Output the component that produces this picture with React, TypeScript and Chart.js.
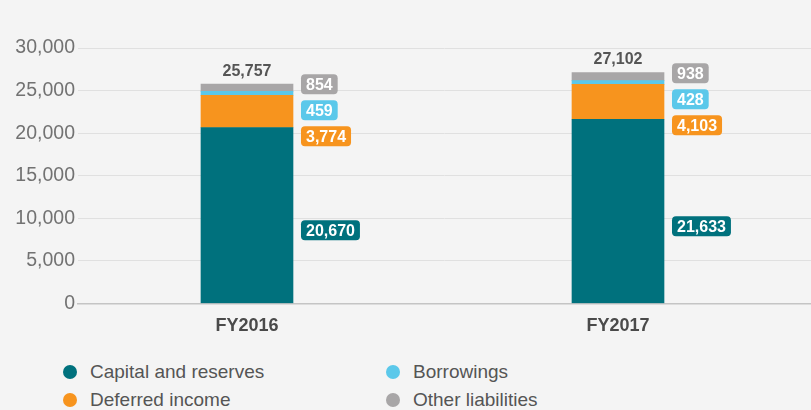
import React, { useEffect, useRef } from "react";
import { Chart, registerables } from "chart.js";

Chart.register(...registerables);

const categories = ["FY2016", "FY2017"];
const capitalReserves = [20670, 21633];
const deferredIncome = [3774, 4103];
const borrowings = [459, 428];
const otherLiabilities = [854, 938];
const totals = [25757, 27102];
const yTicks = [0, 5000, 10000, 15000, 20000, 25000, 30000];

const seriesNames = ["Capital and reserves", "Deferred income", "Borrowings", "Other liabilities"];
const COLORS = ["#00717D", "#F7941E", "#5BC8EA", "#A8A6A7"];

const FONT = "'Liberation Sans', Arial, Helvetica, sans-serif";
const X_MIN = -0.4555;
const X_MAX = 1.5202;

const fmt = (v: number) => v.toLocaleString("en-US");

function roundRect(ctx: CanvasRenderingContext2D, x: number, y: number, w: number, h: number, r: number) {
  ctx.beginPath();
  ctx.moveTo(x + r, y);
  ctx.lineTo(x + w - r, y);
  ctx.quadraticCurveTo(x + w, y, x + w, y + r);
  ctx.lineTo(x + w, y + h - r);
  ctx.quadraticCurveTo(x + w, y + h, x + w - r, y + h);
  ctx.lineTo(x + r, y + h);
  ctx.quadraticCurveTo(x, y + h, x, y + h - r);
  ctx.lineTo(x, y + r);
  ctx.quadraticCurveTo(x, y, x + r, y);
  ctx.closePath();
}

const labelPlugin = {
  id: "barLabels",
  afterDatasetsDraw(chart: any) {
    const ctx: CanvasRenderingContext2D = chart.ctx;
    const metas = [0, 1, 2, 3].map((d) => chart.getDatasetMeta(d));
    categories.forEach((_, i) => {
      const bars = metas.map((m: any) => m.data[i]);
      const top = bars[3];
      const cx = top.x;
      const halfW = top.width / 2;
      ctx.save();
      ctx.font = `bold 16px ${FONT}`;
      ctx.fillStyle = "#555555";
      ctx.textAlign = "center";
      ctx.textBaseline = "middle";
      ctx.fillText(fmt(totals[i]), cx, top.y - 13);

      const values = [capitalReserves[i], deferredIncome[i], borrowings[i], otherLiabilities[i]];
      const grayCenter = (bars[3].y + bars[3].base) / 2 - 3.5;
      const capCenter = (bars[0].y + bars[0].base) / 2 + 15;
      const ys = [capCenter, grayCenter + 52, grayCenter + 26, grayCenter];
      const bx = cx + halfW + 8;
      values.forEach((v, d) => {
        const txt = fmt(v);
        ctx.font = `bold 16px ${FONT}`;
        const w = ctx.measureText(txt).width + 10;
        const h = 20;
        roundRect(ctx, bx, ys[d] - h / 2, w, h, 4);
        ctx.fillStyle = COLORS[d];
        ctx.fill();
        ctx.fillStyle = "#ffffff";
        ctx.textAlign = "left";
        ctx.textBaseline = "middle";
        ctx.fillText(txt, bx + 5, ys[d] + 1);
      });
      ctx.restore();
    });
  },
};

export default function App() {
  const ref = useRef<HTMLCanvasElement | null>(null);

  useEffect(() => {
    if (!ref.current) return;
    const seriesData = [capitalReserves, deferredIncome, borrowings, otherLiabilities];
    const chart = new Chart(ref.current, {
      type: "bar",
      data: {
        datasets: seriesData.map((arr, d) => ({
          label: seriesNames[d],
          data: arr.map((v, i) => ({ x: i, y: v })),
          backgroundColor: COLORS[d],
          borderWidth: 0,
          barThickness: 92,
        })),
      },
      options: {
        animation: false,
        responsive: false,
        maintainAspectRatio: false,
        layout: { padding: { top: 48, left: 0, right: 0, bottom: 0 } },
        plugins: { legend: { display: false }, tooltip: { enabled: false } },
        scales: {
          x: {
            type: "linear",
            stacked: true,
            offset: false,
            min: X_MIN,
            max: X_MAX,
            grid: { display: false, drawTicks: false, offset: false },
            border: { display: true, color: "#c4c4c4", width: 1.5 },
            afterBuildTicks: (scale: any) => {
              scale.ticks = categories.map((_, i) => ({ value: i }));
            },
            afterFit: (scale: any) => {
              scale.height = 41.5;
            },
            ticks: {
              padding: 12,
              autoSkip: false,
              maxRotation: 0,
              color: "#4a4a4a",
              font: { family: FONT, size: 18, weight: "bold" },
              callback: (v: any) => categories[v] ?? "",
            },
          },
          y: {
            stacked: true,
            min: 0,
            max: 30000,
            afterBuildTicks: (scale: any) => {
              scale.ticks = yTicks.map((v) => ({ value: v }));
            },
            afterFit: (scale: any) => {
              scale.width = 78;
            },
            grid: {
              drawTicks: false,
              color: (c: any) => (c.tick && c.tick.value === 0 ? "rgba(0,0,0,0)" : "#e0e0e0"),
              lineWidth: 1,
            },
            border: { display: false },
            ticks: {
              padding: 3,
              color: "#727272",
              font: { family: FONT, size: 19.5 },
              callback: (v: any) => fmt(Number(v)),
            },
          },
        },
      },
      plugins: [labelPlugin],
    });
    return () => chart.destroy();
  }, []);

  const legendItem = (d: number, left: number, top: number) => (
    <div
      key={d}
      style={{
        position: "absolute",
        left,
        top,
        height: 28,
        display: "flex",
        alignItems: "center",
        fontFamily: FONT,
        fontSize: 19,
        color: "#555555",
        whiteSpace: "nowrap",
      }}
    >
      <span
        style={{
          display: "inline-block",
          width: 14,
          height: 14,
          borderRadius: "50%",
          background: COLORS[d],
          marginRight: 13,
        }}
      />
      {seriesNames[d]}
    </div>
  );

  return (
    <div
      style={{
        position: "fixed",
        left: 0,
        top: 0,
        width: 811,
        height: 410,
        background: "#f4f4f4",
        overflow: "hidden",
      }}
    >
      <canvas ref={ref} width={811} height={345} style={{ position: "absolute", left: 0, top: 0 }} />
      {legendItem(0, 63, 358)}
      {legendItem(2, 386, 358)}
      {legendItem(1, 63, 386)}
      {legendItem(3, 386, 386)}
    </div>
  );
}
